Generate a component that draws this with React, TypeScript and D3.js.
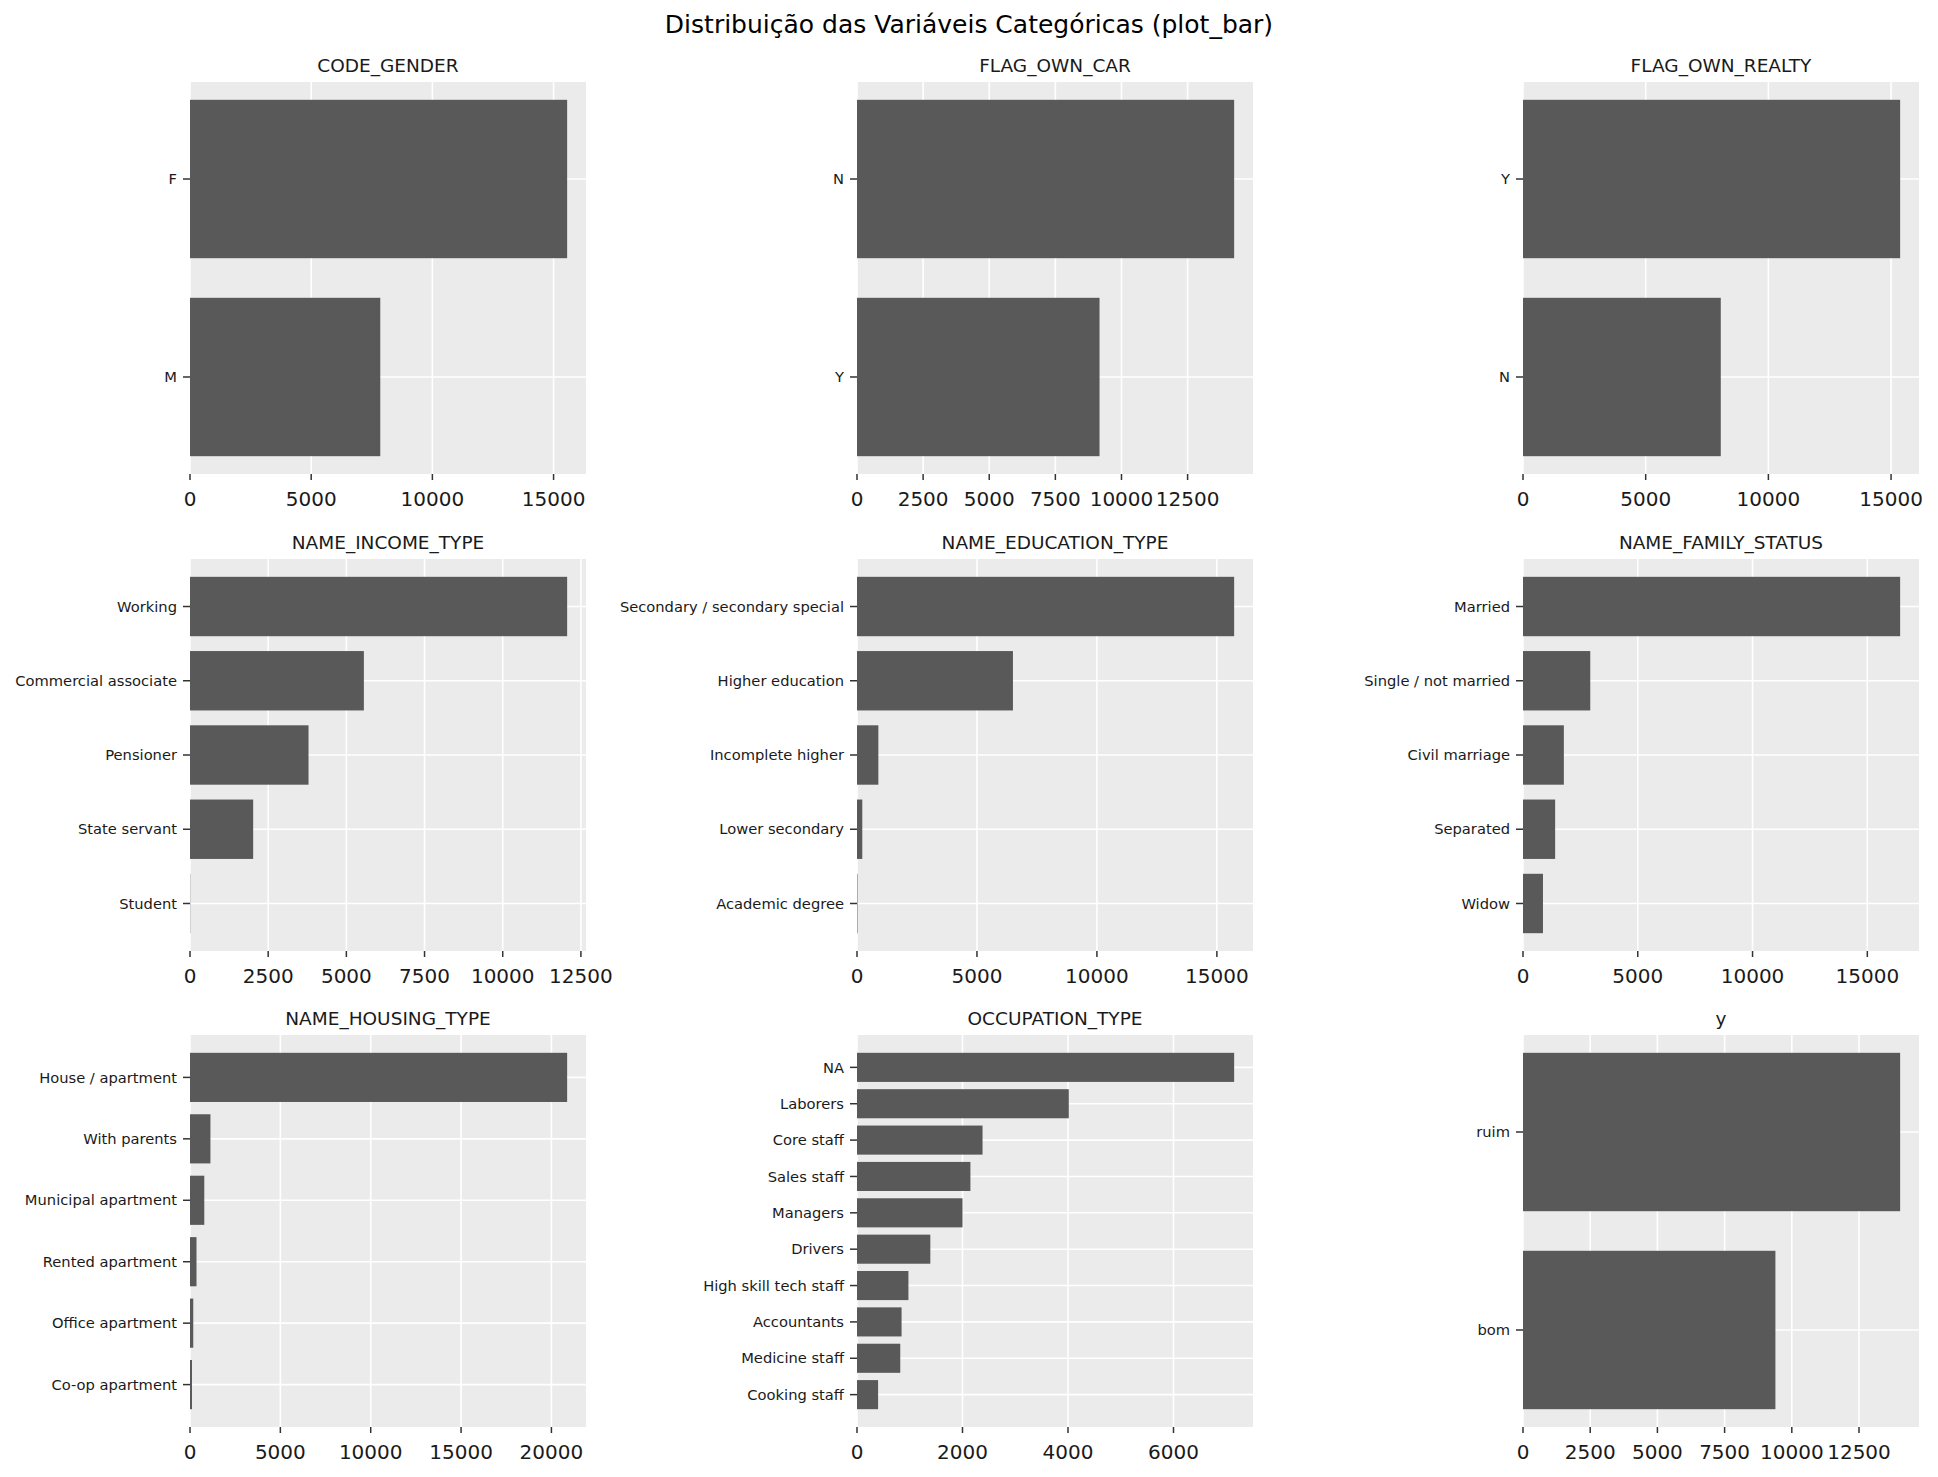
import React from 'react';
import * as d3 from 'd3';

const W = 1938;
const H = 1477;

// ---- data ----
const genderCats = ['F', 'M'];
const genderVals = [15560, 7850];

const carCats = ['N', 'Y'];
const carVals = [14260, 9170];

const realtyCats = ['Y', 'N'];
const realtyVals = [15370, 8060];

const incomeCats = ['Working', 'Commercial associate', 'Pensioner', 'State servant', 'Student'];
const incomeVals = [12060, 5560, 3790, 2020, 8];

const educationCats = ['Secondary / secondary special', 'Higher education', 'Incomplete higher', 'Lower secondary', 'Academic degree'];
const educationVals = [15720, 6500, 890, 220, 20];

const familyCats = ['Married', 'Single / not married', 'Civil marriage', 'Separated', 'Widow'];
const familyVals = [16430, 2930, 1780, 1400, 870];

const housingCats = ['House / apartment', 'With parents', 'Municipal apartment', 'Rented apartment', 'Office apartment', 'Co-op apartment'];
const housingVals = [20870, 1130, 790, 360, 180, 110];

const occupationCats = ['NA', 'Laborers', 'Core staff', 'Sales staff', 'Managers', 'Drivers', 'High skill tech staff', 'Accountants', 'Medicine staff', 'Cooking staff'];
const occupationVals = [7150, 4015, 2380, 2150, 2000, 1390, 975, 845, 820, 400];

const yCats = ['ruim', 'bom'];
const yVals = [14030, 9390];

const ticks5k = [0, 5000, 10000, 15000];
const ticks2500 = [0, 2500, 5000, 7500, 10000, 12500];
const ticksHousing = [0, 5000, 10000, 15000, 20000];
const ticks2k = [0, 2000, 4000, 6000];

const titles = ['CODE_GENDER', 'FLAG_OWN_CAR', 'FLAG_OWN_REALTY', 'NAME_INCOME_TYPE', 'NAME_EDUCATION_TYPE', 'NAME_FAMILY_STATUS', 'NAME_HOUSING_TYPE', 'OCCUPATION_TYPE', 'y'];
const allCats = [genderCats, carCats, realtyCats, incomeCats, educationCats, familyCats, housingCats, occupationCats, yCats];
const allVals = [genderVals, carVals, realtyVals, incomeVals, educationVals, familyVals, housingVals, occupationVals, yVals];
const allTicks = [ticks5k, ticks2500, ticks5k, ticks2500, ticks5k, ticks5k, ticksHousing, ticks2k, ticks2500];

const suptitle = 'Distribuição das Variáveis Categóricas (plot_bar)';

// ---- layout ----
const colLeft = [190, 857, 1523];
const rowTop = [82, 559, 1035];
const PW = 396;
const PH = 392;
const FONT = '"DejaVu Sans", sans-serif';

type PanelProps = {
  x0: number; y0: number; w: number; h: number;
  title: string; cats: string[]; vals: number[]; ticks: number[];
};

function Panel({ x0, y0, w, h, title, cats, vals, ticks }: PanelProps) {
  const n = cats.length;
  const m = 0.05 * (n - 1 + 0.8);
  const y = d3.scaleLinear().domain([-0.4 - m, n - 1 + 0.4 + m]).range([y0, y0 + h]);
  const x = d3.scaleLinear().domain([0, (d3.max(vals) as number) * 1.05]).range([x0, x0 + w]);
  return (
    <g>
      <rect x={x0} y={y0} width={w} height={h} fill="#EBEBEB" />
      {ticks.map((t) => (
        <line key={'gx' + t} x1={x(t)} x2={x(t)} y1={y0} y2={y0 + h} stroke="#FFFFFF" strokeWidth={1.6} />
      ))}
      {cats.map((c, i) => (
        <line key={'gy' + c} x1={x0} x2={x0 + w} y1={y(i)} y2={y(i)} stroke="#FFFFFF" strokeWidth={1.6} />
      ))}
      {cats.map((c, i) => (
        <rect key={'b' + c} x={x(0)} y={y(i - 0.4)} width={Math.max(0, x(vals[i]) - x(0))} height={y(i + 0.4) - y(i - 0.4)} fill="#595959" />
      ))}
      {ticks.map((t) => (
        <g key={'tx' + t}>
          <line x1={x(t)} x2={x(t)} y1={y0 + h} y2={y0 + h + 6} stroke="#333333" strokeWidth={1.5} />
          <text x={x(t)} y={y0 + h + 32} textAnchor="middle" fontSize={20} fill="#1a1a1a" fontFamily={FONT}>{String(t)}</text>
        </g>
      ))}
      {cats.map((c, i) => (
        <g key={'ty' + c}>
          <line x1={x0 - 7} x2={x0} y1={y(i)} y2={y(i)} stroke="#333333" strokeWidth={1.5} />
          <text x={x0 - 13} y={y(i)} dy="0.35em" textAnchor="end" fontSize={14.7} fill="#1a1a1a" fontFamily={FONT}>{c}</text>
        </g>
      ))}
      <text x={x0 + w / 2} y={y0 - 10} textAnchor="middle" fontSize={18.5} fill="#1a1a1a" fontFamily={FONT}>{title}</text>
    </g>
  );
}

export default function App() {
  return (
    <svg width={W} height={H} viewBox={`0 0 ${W} ${H}`} style={{ position: 'absolute', left: 0, top: 0, background: '#FFFFFF' }}>
      <rect x={0} y={0} width={W} height={H} fill="#FFFFFF" />
      <text x={969} y={33} textAnchor="middle" fontSize={25} fill="#000000" fontFamily={FONT}>{suptitle}</text>
      {titles.map((t, k) => (
        <Panel
          key={t}
          x0={colLeft[k % 3]}
          y0={rowTop[Math.floor(k / 3)]}
          w={PW}
          h={PH}
          title={t}
          cats={allCats[k]}
          vals={allVals[k]}
          ticks={allTicks[k]}
        />
      ))}
    </svg>
  );
}
